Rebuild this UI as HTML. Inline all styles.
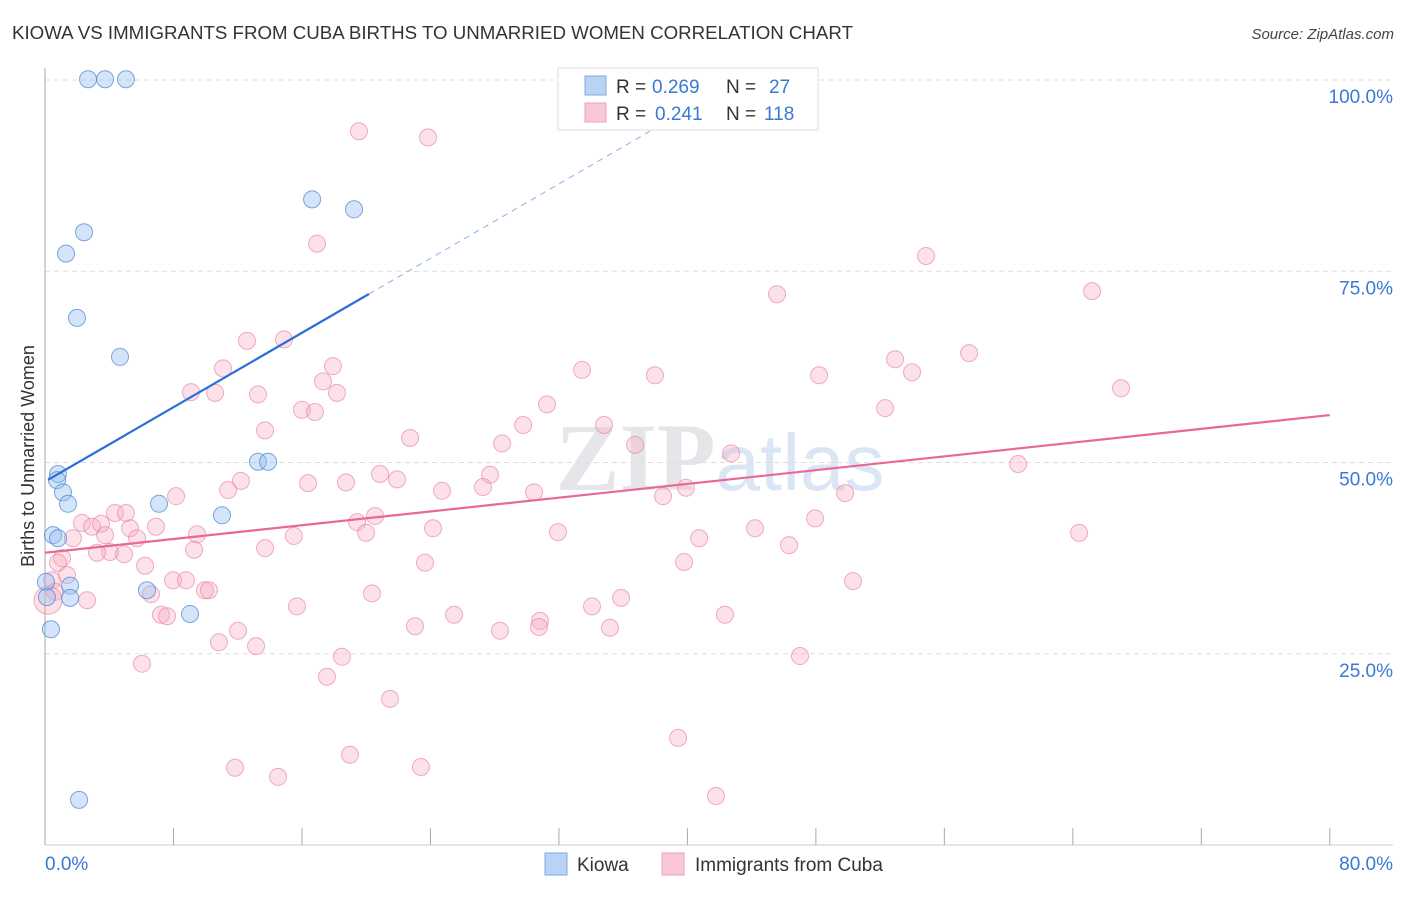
<!DOCTYPE html>
<html><head><meta charset="utf-8"><style>
body{margin:0;background:#fff;font-family:"Liberation Sans",sans-serif}
</style></head><body>
<svg width="1406" height="892" xmlns="http://www.w3.org/2000/svg" id="svg">
<text x="12" y="39" font-size="18" fill="#333" textLength="841" lengthAdjust="spacingAndGlyphs">KIOWA VS IMMIGRANTS FROM CUBA BIRTHS TO UNMARRIED WOMEN CORRELATION CHART</text>
<text x="1394" y="39" font-size="15" fill="#444" text-anchor="end" font-style="italic">Source: ZipAtlas.com</text>
<text x="720" y="490" font-size="96" fill="#e6e6ea" text-anchor="middle" font-family="Liberation Serif" font-weight="bold">ZIP<tspan fill="#dbe6f5" font-family="Liberation Sans" font-weight="normal" font-size="80">atlas</tspan></text>
<g id="grid"></g><g id="axes"></g><g id="marks"></g>
<text transform="translate(34,456) rotate(-90)" font-size="18" fill="#333" text-anchor="middle">Births to Unmarried Women</text>
<g>
<rect x="558" y="68" width="260" height="62" fill="#fff" stroke="#ddd"/>
<rect x="585" y="76" width="21" height="19" fill="#b9d3f5" stroke="#7fa8e0"/>
<rect x="585" y="103" width="21" height="19" fill="#f9c8d6" stroke="#eea0b6"/>
<text x="616" y="93" font-size="19" fill="#333">R =</text>
<text x="652" y="93" font-size="19" fill="#3a78d4">0.269</text>
<text x="726" y="93" font-size="19" fill="#333">N =</text>
<text x="769" y="93" font-size="19" fill="#3a78d4">27</text>
<text x="616" y="120" font-size="19" fill="#333">R =</text>
<text x="655" y="120" font-size="19" fill="#3a78d4">0.241</text>
<text x="726" y="120" font-size="19" fill="#333">N =</text>
<text x="764" y="120" font-size="19" fill="#3a78d4">118</text>
</g>
<g>
<rect x="545" y="853" width="22" height="22" fill="#b9d3f5" stroke="#7fa8e0"/>
<text x="577" y="871" font-size="19" fill="#333">Kiowa</text>
<rect x="662" y="853" width="22" height="22" fill="#f9c8d6" stroke="#eea0b6"/>
<text x="695" y="871" font-size="19" fill="#333">Immigrants from Cuba</text>
</g>
</svg>
<script>
const yTicks=[25,50,75,100];
const yTickLabels=["25.0%","50.0%","75.0%","100.0%"];
const xTicks=[0,8,16,24,32,40,48,56,64,72,80];
const kiowaX=[2.68,3.74,5.04,16.63,19.24,2.43,1.31,1.99,4.67,13.26,13.89,0.81,0.75,1.12,1.43,7.10,11.02,0.5,0.81,0.06,0.12,1.56,1.56,6.35,9.03,0.37,2.12];
const kiowaY=[100.1,100.1,100.1,84.4,83.1,80.1,77.3,68.9,63.8,50.1,50.1,48.5,47.7,46.1,44.6,44.6,43.1,40.5,40.1,34.4,32.4,33.9,32.3,33.3,30.2,28.2,5.9];
const cubaX=[19.55,23.85,16.94,54.86,65.2,45.58,12.58,14.88,11.08,17.93,57.54,52.93,53.99,33.44,37.98,48.2,67.0,9.09,10.59,13.26,17.31,18.18,16.0,16.81,52.31,31.26,29.77,34.81,13.7,22.73,28.46,36.74,42.72,60.59,20.86,27.71,21.92,12.2,16.38,18.74,27.27,24.72,30.45,8.16,38.48,39.91,11.4,49.82,4.36,5.04,20.55,2.3,2.93,3.49,5.29,6.91,19.43,24.16,47.95,44.21,31.94,15.5,19.99,9.47,64.39,1.74,3.74,5.73,40.73,46.33,1.06,4.05,4.92,3.24,9.28,13.7,0.81,6.23,23.66,39.79,1.37,0.44,7.97,8.78,0.62,2.62,6.6,9.96,10.21,50.31,20.36,35.87,15.69,34.06,25.47,7.22,7.6,42.34,30.82,30.76,23.04,28.33,35.18,12.02,10.83,13.14,18.49,47.01,6.04,17.56,21.48,39.42,18.99,11.83,23.41,14.51,41.78,0.19];
const cubaY=[93.3,92.5,78.6,77.0,72.4,72.0,65.9,66.1,62.3,62.6,64.3,63.5,61.8,62.1,61.4,61.4,59.7,59.2,59.1,58.9,60.6,59.1,56.9,56.6,57.1,57.6,54.9,54.9,54.2,53.2,52.5,52.3,51.2,49.8,48.5,48.4,47.8,47.6,47.3,47.4,46.8,46.3,46.1,45.6,45.6,46.7,46.4,46.0,43.4,43.4,43.0,42.1,41.6,42.0,41.4,41.6,42.2,41.4,42.7,41.4,40.9,40.4,40.8,40.6,40.8,40.1,40.5,40.1,40.1,39.2,37.5,38.3,38.0,38.2,38.6,38.8,36.9,36.5,36.9,37.0,35.3,34.6,34.6,34.6,33.1,32.0,32.8,33.3,33.3,34.5,32.9,32.3,31.2,31.2,30.1,30.1,29.9,30.1,29.3,28.5,28.6,28.0,28.4,28.0,26.5,26.0,24.6,24.7,23.7,22.0,19.1,14.0,11.8,10.1,10.2,8.9,6.4,32.0];
const kiowaFit=[47.5,1.216];
const cubaFit=[38.2,0.225];
const NS='http://www.w3.org/2000/svg';
const sx=v=>45+v*16.06, sy=v=>845-v*7.65;
function mk(tag,attrs,parent){const e=document.createElementNS(NS,tag);for(const k in attrs)e.setAttribute(k,attrs[k]);parent.appendChild(e);return e;}
const grid=document.getElementById('grid'),axes=document.getElementById('axes'),marks=document.getElementById('marks');
yTicks.forEach((t,i)=>{
 const l=mk('line',{x1:45,x2:1393,y1:sy(t),y2:sy(t),stroke:'#ddd','stroke-dasharray':'5,4'},grid);
 
 
 const tx=mk('text',{x:1393,y:sy(t)+23,'font-size':19,fill:'#3a78d4','text-anchor':'end'},axes);
 tx.textContent=yTickLabels[i];
 
 
});
mk('line',{x1:45,x2:45,y1:68,y2:845,stroke:'#aaa'},axes);
mk('line',{x1:45,x2:1393,y1:845,y2:845,stroke:'#ccc'},axes);
xTicks.forEach(t=>{const l=mk('line',{x1:sx(t),x2:sx(t),y1:828,y2:845,stroke:'#aaa'},axes);
 
 });
let a=mk('text',{x:45,y:870,'font-size':19,fill:'#3a78d4'},axes);a.textContent='0.0%';

a=mk('text',{x:1393,y:870,'font-size':19,fill:'#3a78d4','text-anchor':'end'},axes);a.textContent='80.0%';

cubaX.forEach((x,i)=>{const c=mk('circle',{cx:sx(x),cy:sy(cubaY[i]),r:i==cubaX.length-1?14:8.5,fill:'rgba(246,170,192,0.35)',stroke:'rgba(232,130,160,0.65)','stroke-width':1},marks);
 
 });
kiowaX.forEach((x,i)=>{const c=mk('circle',{cx:sx(x),cy:sy(kiowaY[i]),r:8.5,fill:'rgba(150,190,240,0.4)',stroke:'rgba(70,130,210,0.7)','stroke-width':1},marks);
 
 });
let x0=0.19,x1=20.17,x2=(100-kiowaFit[0])/kiowaFit[1];
let ln=mk('line',{x1:sx(x0),y1:sy(kiowaFit[0]+kiowaFit[1]*x0),x2:sx(x1),y2:sy(kiowaFit[0]+kiowaFit[1]*x1),stroke:'#2a6fd6','stroke-width':2.2},marks);


ln=mk('line',{x1:sx(x1),y1:sy(kiowaFit[0]+kiowaFit[1]*x1),x2:sx(x2),y2:sy(100),stroke:'#8ab0e6','stroke-width':1,'stroke-dasharray':'6,5'},marks);


ln=mk('line',{x1:sx(0),y1:sy(cubaFit[0]),x2:sx(80),y2:sy(cubaFit[0]+cubaFit[1]*80),stroke:'#e8689a','stroke-width':2.2},marks);


</script>
</body></html>
